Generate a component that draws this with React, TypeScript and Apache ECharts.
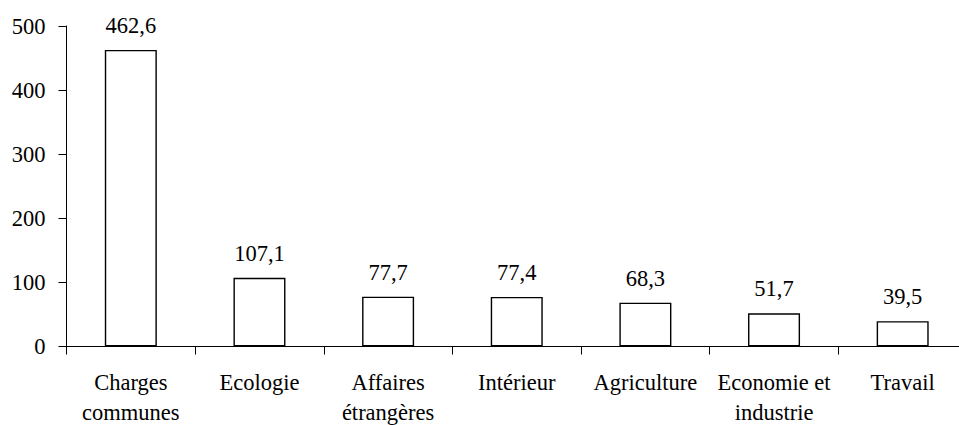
import React, { useEffect, useRef } from "react";
import * as echarts from "echarts";

const categories = [
  "Charges\ncommunes",
  "Ecologie",
  "Affaires\nétrangères",
  "Intérieur",
  "Agriculture",
  "Economie et\nindustrie",
  "Travail",
];
const values = [462.6, 107.1, 77.7, 77.4, 68.3, 51.7, 39.5];
const yMin = 0;
const yMax = 500;
const yInterval = 100;

const FONT = "Liberation Serif";
const FS = 22.5;

export default function App() {
  const ref = useRef<HTMLDivElement>(null);
  useEffect(() => {
    if (!ref.current) return;
    const chart = echarts.init(ref.current, undefined, { renderer: "svg" });
    chart.setOption({
      animation: false,
      backgroundColor: "#ffffff",
      textStyle: { fontFamily: FONT, color: "#000", fontSize: FS },
      grid: {
        left: 66.5,
        right: -8,
        top: 26,
        bottom: 78.5,
        containLabel: false,
        outerBoundsMode: "none",
      },
      xAxis: {
        type: "category",
        data: categories,
        axisLine: { show: true, lineStyle: { color: "#000", width: 1 } },
        axisTick: { show: true, inside: false, length: 8, interval: 0, lineStyle: { color: "#000", width: 1 } },
        axisLabel: {
          interval: 0,
          margin: 21,
          fontFamily: FONT,
          fontSize: FS,
          lineHeight: 30,
          color: "#000",
        },
        splitLine: { show: false },
      },
      yAxis: {
        type: "value",
        min: yMin,
        max: yMax,
        interval: yInterval,
        axisLine: { show: true, lineStyle: { color: "#000", width: 1 } },
        axisTick: { show: true, inside: false, length: 8, lineStyle: { color: "#000", width: 1 } },
        axisLabel: { margin: 21, fontFamily: FONT, fontSize: FS, color: "#000" },
        splitLine: { show: false },
      },
      series: [
        {
          type: "bar",
          data: values,
          barWidth: 52,
          itemStyle: { color: "#ffffff", borderColor: "#000", borderWidth: 1.4 },
          label: {
            show: true,
            position: "top",
            distance: 13,
            fontFamily: FONT,
            fontSize: FS,
            color: "#000",
            formatter: (p: any) => String(p.value).replace(".", ","),
          },
        },
      ],
    });
    return () => chart.dispose();
  }, []);
  return (
    <div
      ref={ref}
      style={{ position: "absolute", left: 0, top: 0, width: 959, height: 425 }}
    />
  );
}
